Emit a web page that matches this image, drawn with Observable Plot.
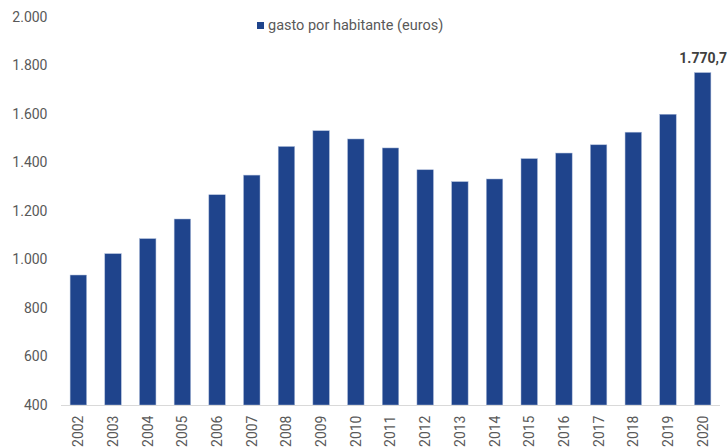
<!DOCTYPE html>
<html>
<head>
<meta charset="utf-8">
<script src="https://cdn.jsdelivr.net/npm/d3@7"></script>
<script src="https://cdn.jsdelivr.net/npm/@observablehq/plot@0.6"></script>
<style>
  html, body { margin: 0; padding: 0; background: #fff; }
  #wrap { position: relative; width: 728px; height: 448px; font-family: Roboto, sans-serif; }
  #legend { position: absolute; left: 257px; top: 17px; font-size: 14.5px; color: #595959; display: flex; align-items: center; white-space: nowrap; }
  #legend .sw { width: 7px; height: 7px; background: #1f448c; margin-right: 4px; }
</style>
</head>
<body>
<div id="wrap"><div id="legend"><span class="sw"></span><span>gasto por habitante (euros)</span></div></div>
<script>
const years = ["2002","2003","2004","2005","2006","2007","2008","2009","2010","2011","2012","2013","2014","2015","2016","2017","2018","2019","2020"];
const gasto = [936, 1024, 1086, 1167, 1267, 1348, 1466, 1531, 1497, 1460, 1370, 1321, 1332, 1416, 1439, 1473, 1525, 1599, 1770.7];
const yTicks = [400, 600, 800, 1000, 1200, 1400, 1600, 1800, 2000];
const seriesName = "gasto por habitante (euros)";

const data = years.map((y, i) => ({year: y, value: gasto[i]}));
const es = d3.formatLocale({decimal: ",", thousands: ".", grouping: [3], currency: ["", " €"]});
const fmtInt = es.format(",.0f");
const fmt1 = es.format(",.1f");
const last = data[data.length - 1];

const chart = Plot.plot({
  width: 728,
  height: 448,
  marginLeft: 61,
  marginRight: 8,
  marginTop: 17,
  marginBottom: 43,
  style: {fontFamily: "Roboto, sans-serif", fontSize: "14px", color: "#595959", background: "#fff"},
  x: {domain: years, paddingInner: 0.525, paddingOuter: 0.2625, round: false, label: null},
  y: {domain: [400, 2000], label: null},
  marks: [
    Plot.barY(data, {x: "year", y1: 400, y2: "value", fill: "#1f448c", stroke: "#a9b9d8", strokeWidth: 0.5}),
    Plot.ruleY([400], {stroke: "#d9d9d9", strokeWidth: 1.2}),
    Plot.axisY({ticks: yTicks, tickSize: 0, tickPadding: 14, tickFormat: fmtInt, fill: "#595959", fontSize: 14, label: null}),
    Plot.axisX({tickSize: 0, tickPadding: 10, tickRotate: -90, fill: "#595959", fontSize: 14, label: null}),
    Plot.text([last], {x: "year", y: "value", text: d => fmt1(d.value), dy: -15, fontWeight: "bold", fill: "#404040", fontSize: 14})
  ]
});
document.getElementById("wrap").prepend(chart);
</script>
</body>
</html>
